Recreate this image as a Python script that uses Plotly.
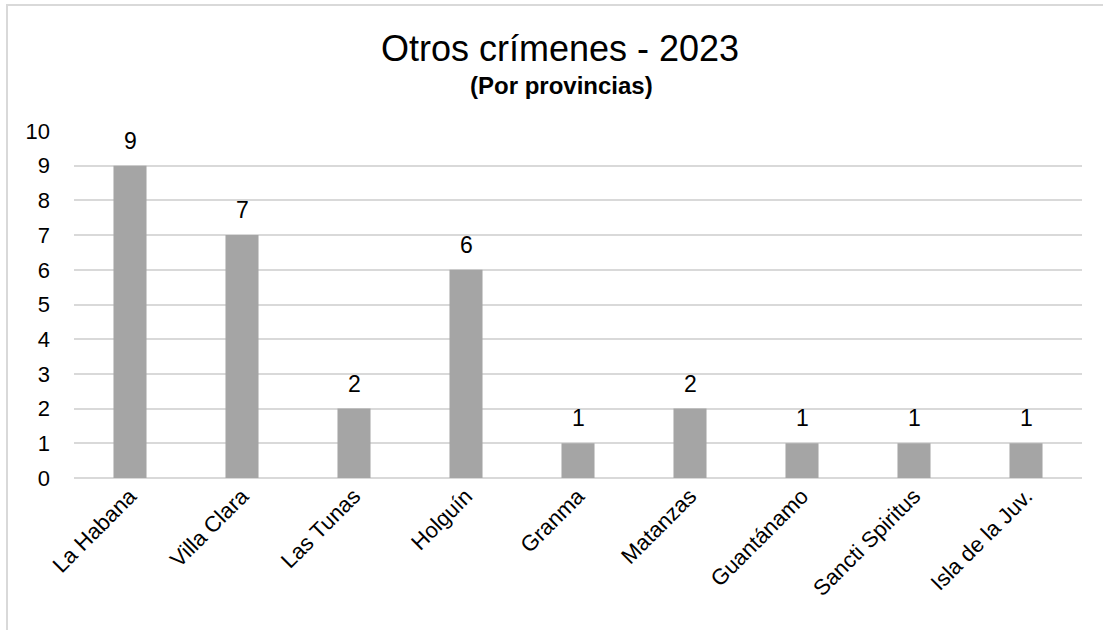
import plotly.graph_objects as go

provincias = ["La Habana", "Villa Clara", "Las Tunas", "Holguín", "Granma",
              "Matanzas", "Guantánamo", "Sancti Spiritus", "Isla de la Juv."]
casos = [9, 7, 2, 6, 1, 2, 1, 1, 1]
y_ticks = list(range(0, 11))

W, H = 1103, 630
L, R, T, B = 74, 21, 131, 152
pw, ph = W - L - R, H - T - B
FONT = "Liberation Sans, Arial, sans-serif"


def py(px_from_top):
    """Convert a pixel row of the page to paper y."""
    return ((H - B) - px_from_top) / ph


fig = go.Figure(go.Bar(
    x=provincias, y=casos,
    marker=dict(color="#a5a5a5", line=dict(width=0)),
    hoverinfo="x+y",
))

# value labels above each bar
for prov, val in zip(provincias, casos):
    fig.add_annotation(x=prov, y=val, text=str(val), showarrow=False,
                       yanchor="bottom", yshift=10,
                       font=dict(family=FONT, size=23, color="#000000"))

# outer chart frame (runs past the right and bottom edges)
fig.add_shape(type="rect", xref="paper", yref="paper",
              x0=(7 - L) / pw, x1=(W + 10 - L) / pw,
              y0=py(H + 10), y1=py(5),
              line=dict(color="#d9d9d9", width=2), fillcolor="rgba(0,0,0,0)", layer="below")

fig.add_annotation(text="Otros crímenes - 2023", xref="paper", yref="paper",
                   x=(560 - L) / pw, y=py(48), yanchor="middle", showarrow=False,
                   font=dict(family=FONT, size=36, color="#000000"))
fig.add_annotation(text="<b>(Por provincias)</b>", xref="paper", yref="paper",
                   x=(561 - L) / pw, y=py(86), yanchor="middle", showarrow=False,
                   font=dict(family=FONT, size=24, color="#000000"))

fig.update_layout(
    width=W, height=H,
    margin=dict(l=L, r=R, t=T, b=B),
    paper_bgcolor="#ffffff", plot_bgcolor="#ffffff",
    bargap=0.705, showlegend=False,
    font=dict(family=FONT, size=22, color="#000000"),
)
fig.update_xaxes(tickangle=-45, showgrid=False, showline=False, ticks="",
                 tickfont=dict(family=FONT, size=22, color="#000000"))
fig.update_yaxes(range=[0, 10], tickvals=y_ticks, showgrid=True, gridcolor="#d9d9d9",
                 gridwidth=1.5, zeroline=True, zerolinecolor="#d9d9d9", zerolinewidth=1.5,
                 showline=False, ticks="", ticklabelstandoff=23,
                 tickfont=dict(family=FONT, size=22, color="#000000"))

fig.write_html("out.html")
